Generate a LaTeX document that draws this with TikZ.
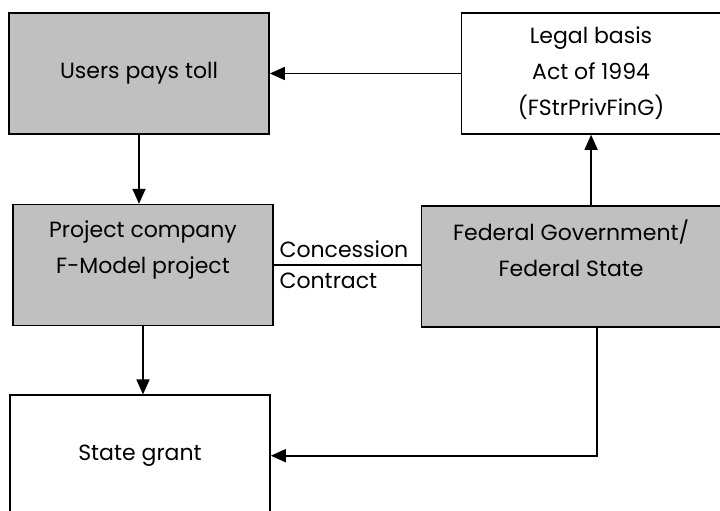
\documentclass[tikz,border=0pt]{standalone}
\usepackage{fontspec}
\setmainfont{Poppins}
\usetikzlibrary{positioning,arrows.meta,calc}
\definecolor{boxgray}{HTML}{C0C0C0}

\begin{document}
\begin{tikzpicture}[>={Triangle[length=15pt,width=13pt]},line width=1.6pt]

\tikzstyle{graybox}=[draw,fill=boxgray,minimum width=260pt,minimum height=121pt,align=center,font=\fontsize{22}{36}\selectfont]
\tikzstyle{whitebox}=[graybox,fill=white]
\tikzstyle{linelabel}=[inner xsep=5pt,inner ysep=7pt,font=\fontsize{22}{24}\selectfont]

\useasboundingbox (0,0) rectangle (720pt,-511pt);
\clip (0,0) rectangle (720pt,-511pt);

% NODES
% top row
\node[graybox](users) at (139pt,-73.5pt){Users pays toll};
\node[whitebox, right=191pt of users, minimum width=259pt](legal){Legal basis\\Act of 1994\\(FStrPrivFinG)};

% middle row
\node[graybox, below=69pt of users, xshift=4pt](proj){Project company\\F-Model project\\\mbox{}};
\node[graybox, right=147pt of proj, minimum width=299pt, yshift=-1.5pt](fed){Federal Government/\\Federal State\\\mbox{}};

% bottom
\node[whitebox, below=68pt of proj, xshift=-3pt](grant){State grant};

% ARROWS
\draw[->](legal) -- (users);
\draw[->](users.south) -- (users.south |- proj.north);
\draw[->](fed.north -| legal.south) -- (legal.south);
\draw[->](proj.south) -- (proj.south |- grant.north);
\draw[->]([xshift=26pt]fed.south) |- (grant.east);

% contract line
\draw(proj.east) -- (proj.east -| fed.west)
  node[pos=0,anchor=south west,linelabel]{Concession}
  node[pos=0,anchor=north west,linelabel]{Contract};

\end{tikzpicture}
\end{document}
